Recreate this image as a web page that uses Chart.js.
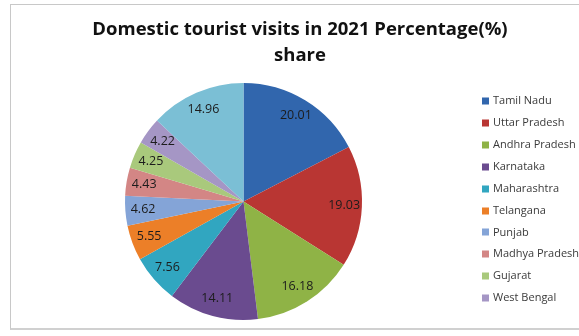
<!DOCTYPE html>
<html>
<head>
<meta charset="utf-8">
<script src="https://cdn.jsdelivr.net/npm/chart.js@4/dist/chart.umd.min.js"></script>
<style>
  html, body { margin: 0; padding: 0; background: #ffffff; }
  #wrap { position: relative; width: 579px; height: 336px; }
  #frame { position: absolute; left: 10px; top: 4px; width: 600px; height: 326px;
           border: 1px solid #c8c8c8; border-bottom: 2px solid #d0d0d0; box-sizing: border-box; }
  canvas { position: absolute; left: 0; top: 0; }
</style>
</head>
<body>
<div id="wrap">
  <div id="frame"></div>
  <canvas id="c" width="579" height="336"></canvas>
</div>
<script>
// Domestic tourist visits in 2021 – share by state (%)
const states = ['Tamil Nadu', 'Uttar Pradesh', 'Andhra Pradesh', 'Karnataka', 'Maharashtra',
                'Telangana', 'Punjab', 'Madhya Pradesh', 'Gujarat', 'West Bengal', 'Others'];
const shares = [20.01, 19.03, 16.18, 14.11, 7.56, 5.55, 4.62, 4.43, 4.25, 4.22, 14.96];
const sliceColors = ['#3166ad', '#b93633', '#8fb346', '#6a4b8f', '#31a6c0', '#ec7f28',
                     '#84a4d7', '#d38685', '#a9c97c', '#a596c5', '#7bbfd5'];
const titleLines = ['Domestic tourist visits in 2021 Percentage(%)', 'share'];
const legendCount = 10;   // the legend lists the first ten states

// Chart title drawn as two centred bold lines
const titlePlugin = {
  id: 'titleLines',
  afterDraw(chart) {
    const ctx = chart.ctx;
    ctx.save();
    ctx.font = 'bold 18.5px "Open Sans"';
    ctx.fillStyle = '#111111';
    ctx.textAlign = 'center';
    ctx.textBaseline = 'alphabetic';
    ctx.fillText(titleLines[0], 300, 35);
    ctx.fillText(titleLines[1], 300, 61);
    ctx.restore();
  }
};

// Value labels placed near the outer end of each slice
const valuePlugin = {
  id: 'valueLabels',
  afterDatasetsDraw(chart) {
    const ctx = chart.ctx;
    const meta = chart.getDatasetMeta(0);
    ctx.save();
    ctx.font = '12.5px "Open Sans"';
    ctx.fillStyle = '#1c1c1c';
    ctx.textAlign = 'center';
    ctx.textBaseline = 'middle';
    meta.data.forEach((arc, i) => {
      const p = arc.getProps(['x', 'y', 'startAngle', 'endAngle', 'outerRadius'], true);
      const mid = (p.startAngle + p.endAngle) / 2;
      const d = p.outerRadius * 0.85;
      ctx.fillText(shares[i].toFixed(2), p.x + Math.cos(mid) * d, p.y + Math.sin(mid) * d);
    });
    ctx.restore();
  }
};

// Legend column on the right: small squares with state names
const legendPlugin = {
  id: 'sideLegend',
  afterDraw(chart) {
    const ctx = chart.ctx;
    ctx.save();
    ctx.font = '11px "Open Sans"';
    ctx.textAlign = 'left';
    ctx.textBaseline = 'middle';
    for (let i = 0; i < legendCount; i++) {
      const y = 101 + i * 21.9;
      ctx.fillStyle = sliceColors[i];
      ctx.fillRect(482, Math.round(y) - 3.5, 7, 7);
      ctx.fillStyle = '#3a3a3a';
      ctx.fillText(states[i], 493, y);
    }
    ctx.restore();
  }
};

new Chart(document.getElementById('c'), {
  type: 'pie',
  data: {
    labels: states,
    datasets: [{
      data: shares,
      backgroundColor: sliceColors,
      borderWidth: 0
    }]
  },
  options: {
    responsive: false,
    animation: false,
    layout: { padding: { left: 125, right: 217, top: 83, bottom: 16 } },
    plugins: {
      legend: { display: false },
      title: { display: false },
      tooltip: { enabled: false }
    }
  },
  plugins: [titlePlugin, valuePlugin, legendPlugin]
});
</script>
</body>
</html>
